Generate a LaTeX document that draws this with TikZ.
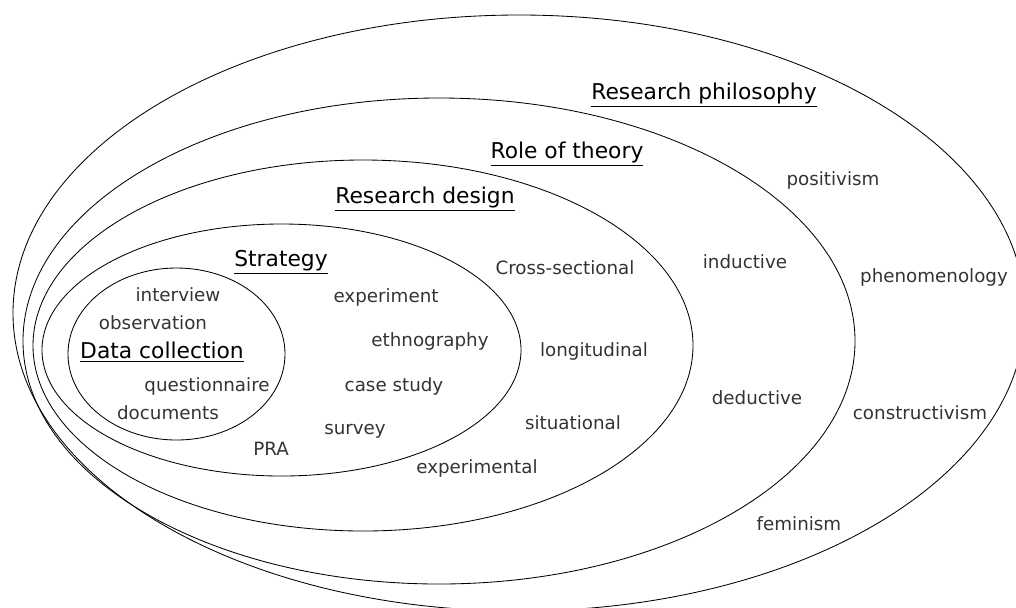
\documentclass[tikz,border=0pt]{standalone}
\usepackage{fontspec}
\setmainfont{DejaVu Sans}
\begin{document}
\begin{tikzpicture}[x=0.025cm,y=-0.025cm,
  term/.style={text=black!80,font=\fontsize{13}{15}\selectfont,inner sep=0pt},
  layer/.style={font=\fontsize{15.5}{18}\selectfont,inner sep=0pt},
  ring/.style={line width=0.6pt}]
\useasboundingbox (0,0) rectangle (1016,607);
\clip (0,0) rectangle (1016,607);
% nested layers, outer to inner
\draw[ring] (519,313) ellipse (506 and 298);
\draw[ring] (439,341) ellipse (416 and 243);
\draw[ring] (363,345.5) ellipse (330 and 185.5);
\draw[ring] (281.5,350) ellipse (239.5 and 126);
\draw[ring] (176.5,354) ellipse (108.5 and 86);

\node[layer] (philosophy) at (704,95) {\underline{Research philosophy}};
\node[layer] (theory) at (567,154) {\underline{Role of theory}};
\node[layer] (design) at (425,199) {\underline{Research design}};
\node[layer] (strategy) at (281,262) {\underline{Strategy}};
\node[layer] (collection) at (162,352) {\underline{Data collection}};

\node[term] (positivism) at (833,180) {positivism};
\node[term] (phenomenology) at (934,277) {phenomenology};
\node[term] (constructivism) at (920,413) {constructivism};
\node[term] (feminism) at (799,524) {feminism};

\node[term] (inductive) at (745,262) {inductive};
\node[term] (deductive) at (757,398) {deductive};

\node[term] (crosssec) at (565,268) {Cross-sectional};
\node[term] (longitudinal) at (594,351) {longitudinal};
\node[term] (situational) at (573,423) {situational};
\node[term] (experimental) at (477,468) {experimental};

\node[term] (experiment) at (386,297) {experiment};
\node[term] (ethnography) at (430,341) {ethnography};
\node[term] (casestudy) at (394,386) {case study};
\node[term] (survey) at (355,431) {survey};
\node[term] (pra) at (271,449) {PRA};

\node[term] (interview) at (178,295) {interview};
\node[term] (observation) at (153,323) {observation};
\node[term] (questionnaire) at (207,386) {questionnaire};
\node[term] (documents) at (168,413) {documents};
\end{tikzpicture}
\end{document}
